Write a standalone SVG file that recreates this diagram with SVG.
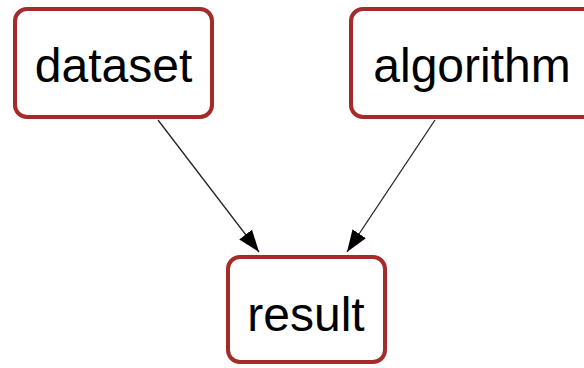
<svg xmlns="http://www.w3.org/2000/svg" width="584" height="368" viewBox="0 0 584 368">
<defs>
<style>
.box{fill:#fff;stroke:#a52a2a;stroke-width:4}
.lbl{font-family:"Liberation Sans",Arial,sans-serif;font-size:48px;fill:#000;text-anchor:middle}
.edge{stroke:#222;stroke-width:1.3;fill:none}
</style>
<marker id="ah" markerWidth="22" markerHeight="16" viewBox="0 0 22 16" refX="22" refY="8" orient="auto" markerUnits="userSpaceOnUse">
<path d="M0,0 L22,8 L0,16 z" fill="#000"/>
</marker>
</defs>
<g id="connectors">
<path class="edge" d="M158,120 L259,252" marker-end="url(#ah)"/>
<path class="edge" d="M435,120 L347,252" marker-end="url(#ah)"/>
</g>
<g id="dataset">
<rect class="box" x="15" y="9" width="197" height="108" rx="12"/>
<text class="lbl" x="113.5" y="82">dataset</text>
</g>
<g id="algorithm">
<rect class="box" x="351" y="9" width="260" height="108" rx="12"/>
<text class="lbl" x="472" y="82">algorithm</text>
</g>
<g id="result">
<rect class="box" x="228" y="257" width="157" height="105" rx="12"/>
<text class="lbl" x="306" y="331">result</text>
</g>
</svg>
